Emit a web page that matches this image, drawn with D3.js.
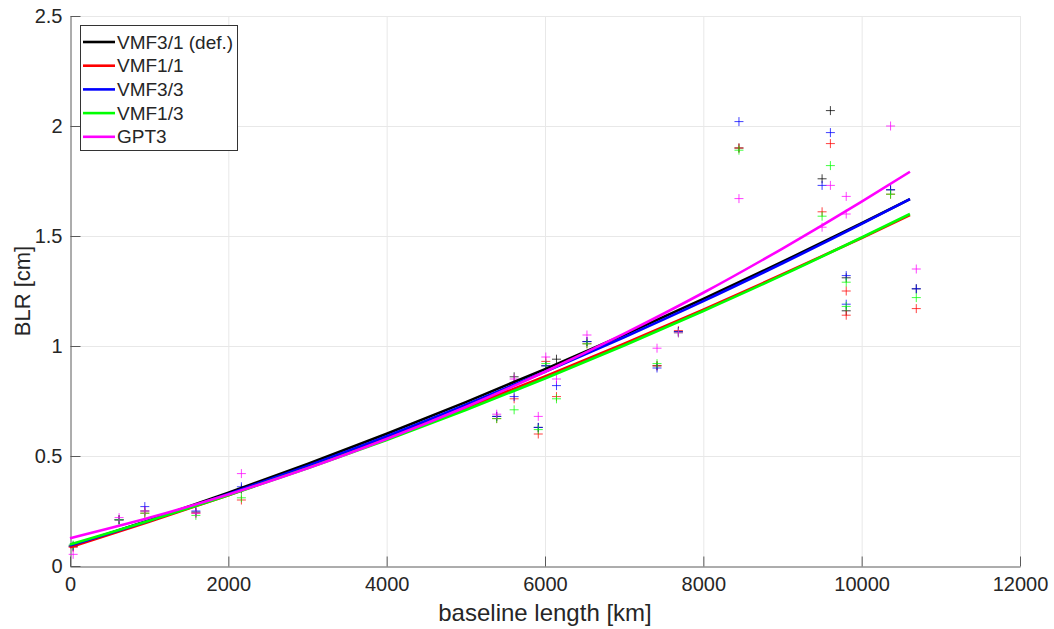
<!DOCTYPE html>
<html>
<head>
<meta charset="utf-8">
<script src="https://cdn.jsdelivr.net/npm/d3@7"></script>
<style>
  html, body { margin: 0; padding: 0; background: #fff; }
  svg { display: block; }
  text { font-family: "Liberation Sans", Arial, Helvetica, sans-serif; fill: #262626; }
</style>
</head>
<body>
<svg id="chart" width="1054" height="629"></svg>
<script>
// Series names and colours
const seriesNames = ["VMF3/1 (def.)", "VMF1/1", "VMF3/3", "VMF1/3", "GPT3"];
const seriesColors = ["#000000", "#ff0000", "#0000ff", "#00ff00", "#ff00ff"];

// Baseline lengths [km] of the individual observations
const baselineKm = [40, 620, 945, 1590, 2165, 5390, 5610, 5915, 6010, 6145,
                    6530, 7415, 7685, 8450, 9500, 9605, 9805, 9805, 10365, 10690];

// Baseline length repeatability [cm] per baseline, one list per solution
const blrVMF31 = [0.09, 0.21, 0.25, 0.245, 0.35, 0.68, 0.86, 0.63, 0.91, 0.94,
                  1.02, 0.91, 1.065, 1.90, 1.76, 2.07, 1.31, 1.16, 1.71, 1.26];
const blrVMF11 = [0.085, 0.21, 0.24, 0.24, 0.30, 0.67, 0.76, 0.60, 0.93, 0.77,
                  1.01, 0.91, 1.07, 1.90, 1.61, 1.92, 1.25, 1.14, 1.69, 1.17];
const blrVMF33 = [0.09, 0.21, 0.27, 0.25, 0.36, 0.68, 0.77, 0.63, 0.91, 0.82,
                  1.02, 0.90, 1.065, 2.02, 1.73, 1.97, 1.32, 1.19, 1.71, 1.26];
const blrVMF13 = [0.095, 0.21, 0.24, 0.23, 0.31, 0.67, 0.71, 0.62, 0.92, 0.76,
                  1.01, 0.92, 1.06, 1.89, 1.59, 1.82, 1.29, 1.18, 1.69, 1.22];
const blrGPT3  = [0.053, 0.22, 0.25, 0.24, 0.42, 0.69, 0.85, 0.68, 0.95, 0.85,
                  1.05, 0.99, 1.06, 1.67, 1.54, 1.73, 1.68, 1.60, 2.00, 1.35];

// Fitted trend curves, sampled along the baseline length
const fitKm = [0, 1000, 2000, 3000, 4000, 5000, 6000, 7000, 8000, 9000, 10000, 10610];
const fitVMF31 = [0.090, 0.208, 0.333, 0.464, 0.601, 0.745, 0.895, 1.051, 1.214, 1.383, 1.558, 1.668];
const fitVMF11 = [0.085, 0.201, 0.322, 0.449, 0.581, 0.719, 0.862, 1.011, 1.165, 1.326, 1.491, 1.595];
const fitVMF33 = [0.093, 0.206, 0.327, 0.455, 0.590, 0.733, 0.883, 1.040, 1.204, 1.376, 1.555, 1.668];
const fitVMF13 = [0.098, 0.206, 0.322, 0.444, 0.573, 0.709, 0.852, 1.002, 1.159, 1.322, 1.493, 1.600];
const fitGPT3  = [0.126, 0.219, 0.325, 0.444, 0.577, 0.723, 0.883, 1.056, 1.242, 1.443, 1.656, 1.792];

// Axis ticks
const xTicks = [0, 2000, 4000, 6000, 8000, 10000, 12000];
const yTicks = [0, 0.5, 1, 1.5, 2, 2.5];
const yTickLabels = ["0", "0.5", "1", "1.5", "2", "2.5"];

const pointSets = [blrVMF31, blrVMF11, blrVMF33, blrVMF13, blrGPT3];
const fitSets = [fitVMF31, fitVMF11, fitVMF33, fitVMF13, fitGPT3];

const svg = d3.select("#chart");
const plot = { left: 70, right: 1020, top: 16, bottom: 566 };

const x = d3.scaleLinear().domain([0, 12000]).range([plot.left, plot.right]);
const y = d3.scaleLinear().domain([0, 2.5]).range([plot.bottom, plot.top]);

// Grid
const grid = svg.append("g").attr("class", "grid");
grid.selectAll("line.gx").data(xTicks.slice(1)).join("line")
  .attr("x1", d => x(d) + 0.5).attr("x2", d => x(d) + 0.5)
  .attr("y1", plot.top).attr("y2", plot.bottom)
  .attr("stroke", "#e8e8e8").attr("stroke-width", 1);
grid.selectAll("line.gy").data(yTicks.slice(1)).join("line")
  .attr("x1", plot.left).attr("x2", plot.right)
  .attr("y1", d => Math.round(y(d)) + 0.5).attr("y2", d => Math.round(y(d)) + 0.5)
  .attr("stroke", "#e8e8e8").attr("stroke-width", 1);

// Axes (ticks pointing inward)
const xAxis = d3.axisBottom(x).tickValues(xTicks).tickFormat(d3.format("d"))
  .tickSizeInner(-10).tickSizeOuter(0).tickPadding(18);
const yAxis = d3.axisLeft(y).tickValues(yTicks).tickFormat((d, i) => yTickLabels[i])
  .tickSizeInner(-10).tickSizeOuter(0).tickPadding(18);

const gx = svg.append("g").attr("transform", `translate(0,${plot.bottom + 0.5})`).call(xAxis);
const gy = svg.append("g").attr("transform", `translate(${plot.left + 0.5},0)`).call(yAxis);
[gx, gy].forEach(g => {
  g.select(".domain").attr("stroke", "#5a5a5a");
  g.selectAll(".tick line").attr("stroke", "#5a5a5a");
  g.selectAll(".tick text").attr("font-size", 20)
    .attr("font-family", "'Liberation Sans', Arial, sans-serif").attr("fill", "#262626");
});
gx.selectAll(".tick text").attr("dy", "0.71em").attr("y", 10);
gy.selectAll(".tick text").attr("x", -8);

// Axis titles
svg.append("text").attr("x", (plot.left + plot.right) / 2).attr("y", 621)
  .attr("text-anchor", "middle").attr("font-size", 24).text("baseline length [km]");
svg.append("text").attr("transform", `translate(30,${(plot.top + plot.bottom) / 2}) rotate(-90)`)
  .attr("text-anchor", "middle").attr("font-size", 22).text("BLR [cm]");

// Observation markers (+)
const plus = (cx, cy, r) => `M${cx - r},${cy}H${cx + r}M${cx},${cy - r}V${cy + r}`;
const marks = svg.append("g").attr("class", "marks");
pointSets.forEach((vals, si) => {
  marks.append("path")
    .attr("d", vals.map((v, i) => plus(x(baselineKm[i]), y(v), 4.5)).join(""))
    .attr("fill", "none").attr("stroke", seriesColors[si])
    .attr("stroke-width", 1).attr("stroke-opacity", 0.75);
});

// Trend curves
const line = d3.line().x(d => x(d[0])).y(d => y(d[1])).curve(d3.curveMonotoneX);
const curves = svg.append("g").attr("class", "curves");
fitSets.forEach((vals, si) => {
  curves.append("path")
    .datum(fitKm.map((k, i) => [k, vals[i]]))
    .attr("d", line).attr("fill", "none")
    .attr("stroke", seriesColors[si]).attr("stroke-width", 2.6);
});

// Legend
const leg = svg.append("g").attr("class", "legend");
leg.append("rect").attr("x", 80.5).attr("y", 25.5).attr("width", 157).attr("height", 125)
  .attr("fill", "#fff").attr("stroke", "#333").attr("stroke-width", 1);
seriesNames.forEach((name, i) => {
  const cy = 42 + i * 23.7;
  leg.append("line").attr("x1", 83).attr("x2", 115).attr("y1", cy).attr("y2", cy)
    .attr("stroke", seriesColors[i]).attr("stroke-width", 2.6);
  leg.append("text").attr("x", 117).attr("y", cy).attr("dy", "0.35em")
    .attr("font-size", 19).attr("fill", "#000").text(name);
});
</script>
</body>
</html>
